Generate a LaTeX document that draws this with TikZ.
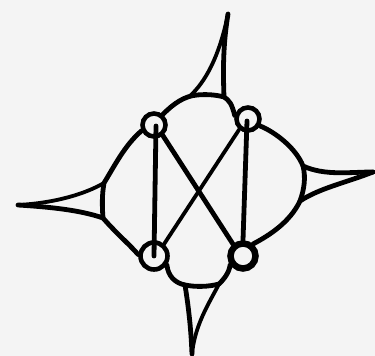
\documentclass[tikz,border=0pt]{standalone}
\begin{document}
\begin{tikzpicture}[x=1pt,y=-1pt,
  ring/.style={circle,draw=black,line width=4.6pt,inner sep=0pt,minimum size=23pt},
  thick line/.style={draw=black,line width=4.8pt,line cap=round,line join=round},
  thin line/.style={draw=black,line width=3.8pt,line cap=round,line join=round}]
\fill[white!95.5!black] (0,0) rectangle (375,356);
\useasboundingbox (0,0) rectangle (375,356);
\node[ring] (tl) at (154,125) {};
\node[ring] (tr) at (248,119) {};
\node[ring,minimum size=27pt] (bl) at (154,256) {};
\node[ring,minimum size=25pt,line width=6.5pt] (br) at (243,256) {};
\coordinate (topTip) at (228,14);
\coordinate (topL) at (190,96);
\coordinate (topR) at (224,97);
\coordinate (leftTip) at (18,205);
\coordinate (leftU) at (104,183);
\coordinate (leftD) at (103,218);
\coordinate (rightTip) at (373,172);
\coordinate (rightU) at (303,166);
\coordinate (rightD) at (300,201);
\coordinate (botTip) at (192,354);
\coordinate (botL) at (185,285);
\coordinate (botR) at (219,284);
% outer arcs
\draw[thick line] (tl.50) .. controls (174,103) and (185,96) .. (197,95) .. controls (207,94) and (217,95) .. (topR) .. controls (229,100) and (232,104) .. (tr.165);
\draw[thick line] (tr.-30) .. controls (275,132) and (296,148) .. (rightU) .. controls (306,178) and (304,190) .. (rightD) .. controls (290,222) and (270,235) .. (br.50);
\draw[thick line] (br.215) .. controls (229,274) and (222,281) .. (botR) .. controls (208,287) and (195,287) .. (botL) .. controls (175,283) and (168,276) .. (bl.-35);
\draw[thick line] (bl.175) .. controls (130,245) and (115,232) .. (leftD) .. controls (102,205) and (102,195) .. (leftU) .. controls (115,165) and (125,145) .. (tl.205);
% spikes
\draw[thick line] (topR) .. controls (223,70) and (223,45) .. (topTip);
\draw[thin line] (topL) .. controls (205,82) and (219,58) .. (topTip);
\draw[thick line] (leftD) .. controls (80,210) and (50,207) .. (leftTip);
\draw[thin line] (leftU) .. controls (85,194) and (55,203) .. (leftTip);
\draw[thick line] (rightU) .. controls (325,176) and (350,172) .. (rightTip);
\draw[thick line] (rightD) .. controls (320,188) and (345,183) .. (rightTip);
\draw[thick line] (botL) .. controls (189,310) and (191,330) .. (botTip);
\draw[thin line] (botR) .. controls (208,305) and (195,325) .. (botTip);
% inner lines
\draw[thick line] (tl.center) ++(2,1) -- (bl.center);
\draw[thick line] (tr.center) ++(-1,2) -- (br.north);
\draw[thick line] (tl.-50) -- (br.130);
\draw[thin line] (tr.-130) -- (bl.50);
\end{tikzpicture}
\end{document}
